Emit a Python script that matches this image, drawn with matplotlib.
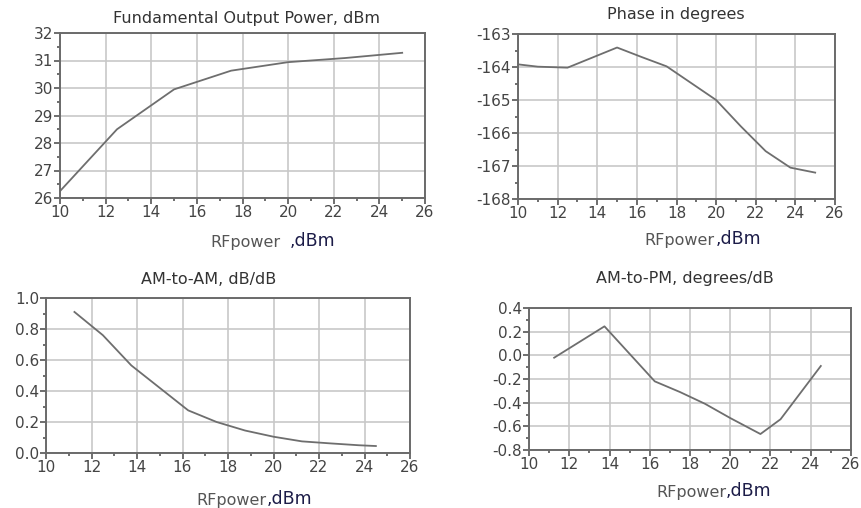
import matplotlib
matplotlib.use("Agg")
import matplotlib.pyplot as plt
from matplotlib.ticker import MultipleLocator

plt.rcParams['font.family'] = ['DejaVu Sans']
plt.rcParams['axes.unicode_minus'] = False

# ---- data ----
pout_x = [10, 12.5, 15, 17.5, 20, 22.5, 25]
pout_y = [26.25, 28.5, 29.95, 30.63, 30.94, 31.09, 31.28]

phase_x = [10, 11, 12.5, 15, 16.25, 17.5, 18.75, 20, 21.25, 22.5, 23.75, 25]
phase_y = [-163.92, -163.99, -164.02, -163.41, -163.70, -163.98, -164.49, -165.0,
           -165.8, -166.55, -167.05, -167.2]

amam_x = [11.25, 12.5, 13.75, 15, 16.25, 17.5, 18.75, 20, 21.25, 22.5, 23.75, 24.5]
amam_y = [0.91, 0.76, 0.565, 0.42, 0.275, 0.20, 0.145, 0.105, 0.075, 0.062, 0.05, 0.045]

ampm_x = [11.25, 13.75, 16.25, 17.5, 18.75, 20, 21.5, 22.5, 24.5]
ampm_y = [-0.02, 0.245, -0.22, -0.31, -0.41, -0.53, -0.665, -0.54, -0.09]

titles = ["Fundamental Output Power, dBm", "Phase in degrees",
          "AM-to-AM, dB/dB", "AM-to-PM, degrees/dB"]
x_ticks = list(range(10, 27, 2))
pout_ticks = [26, 27, 28, 29, 30, 31, 32]
phase_ticks = [-168, -167, -166, -165, -164, -163]
amam_ticks = [0.0, 0.2, 0.4, 0.6, 0.8, 1.0]
ampm_ticks = [-0.8, -0.6, -0.4, -0.2, 0.0, 0.2, 0.4]

W, H = 861, 508
fig = plt.figure(figsize=(W / 100, H / 100), dpi=100)


def px_axes(l, t, r, b):
    return fig.add_axes([l / W, 1 - b / H, (r - l) / W, (b - t) / H])


LINE = '#6e6e6e'
TXT = '#444444'


def style(ax, xs, ys, yticks, fmt, ymin, ymax):
    ax.plot(xs, ys, color=LINE, lw=1.3, solid_joinstyle='round')
    ax.set_xlim(10, 26)
    ax.set_ylim(ymin, ymax)
    ax.set_xticks(x_ticks)
    ax.set_yticks(yticks)
    ax.set_yticklabels([fmt(v) for v in yticks])
    ax.xaxis.set_minor_locator(MultipleLocator(1))
    step = yticks[1] - yticks[0]
    ax.yaxis.set_minor_locator(MultipleLocator(step / 2))
    ax.grid(True, which='major', color='#c8c8c8', lw=1.2)
    ax.set_axisbelow(True)
    for s in ax.spines.values():
        s.set_color('#6a6a6a')
        s.set_linewidth(1.4)
    ax.tick_params(which='major', direction='out', length=4, width=1.2,
                   color='#555555', labelsize=11, labelcolor=TXT, pad=1)
    ax.tick_params(which='minor', direction='out', length=2.5, width=1.2,
                   color='#555555')


ax1 = px_axes(60, 33, 425, 198)
style(ax1, pout_x, pout_y, pout_ticks, lambda v: f"{v:d}", 26, 32)
ax2 = px_axes(518, 34, 835, 199)
style(ax2, phase_x, phase_y, phase_ticks, lambda v: f"{v:d}", -168, -163)
ax3 = px_axes(46, 298, 410, 453)
style(ax3, amam_x, amam_y, amam_ticks, lambda v: f"{v:.1f}", 0.0, 1.0)
ax4 = px_axes(529, 308, 851, 450)
style(ax4, ampm_x, ampm_y, ampm_ticks, lambda v: f"{v:.1f}", -0.8, 0.4)

# titles
title_pos = [(247, 19), (676, 15), (209, 279), (685, 278)]
for t, (x, y) in zip(titles, title_pos):
    fig.text(x / W, 1 - y / H, t, ha='center', va='center', fontsize=11.5, color='#333333')

# x labels (two-part)
xl = [(280, 290, 242), (714, 716, 240), (267, 267, 500), (726, 726, 492)]
for (xr, xl2, y) in xl:
    fig.text(xr / W, 1 - y / H, "RFpower", ha='right', va='center', fontsize=11.5,
             color='#555555')
    fig.text(xl2 / W, 1 - (y - 1) / H, ",dBm", ha='left', va='center', fontsize=12.5,
             color='#1c1c48')

fig.savefig("out.png", dpi=100, facecolor='white')
